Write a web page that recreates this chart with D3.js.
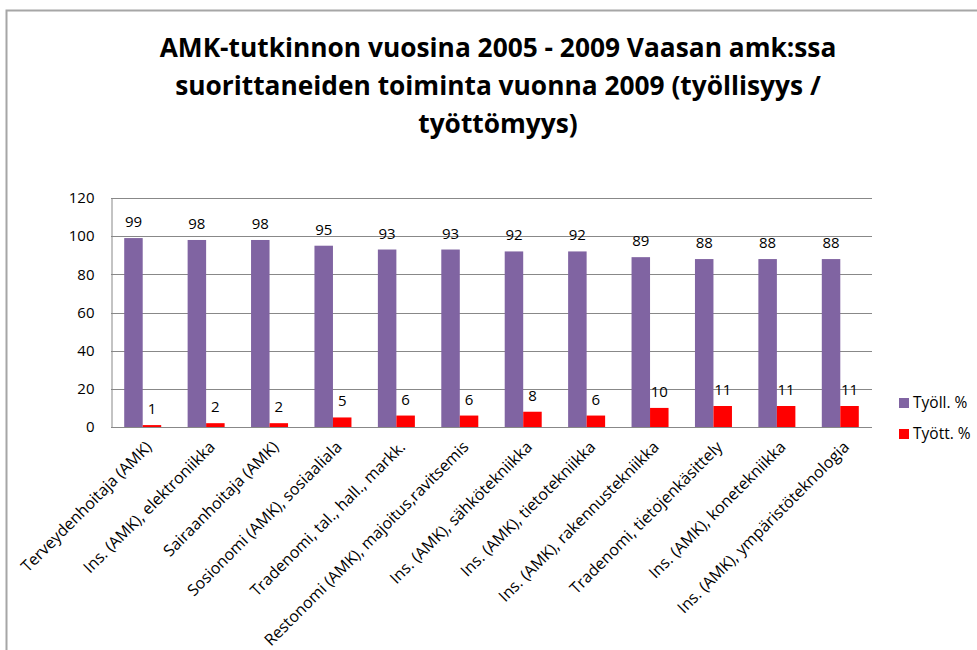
<!DOCTYPE html>
<html>
<head>
<meta charset="utf-8">
<script src="https://cdn.jsdelivr.net/npm/d3@7"></script>
<style>
  body { margin: 0; background: #fff; }
  #chart { width: 977px; height: 650px; }
  text { font-family: "Open Sans", "Noto Sans", Arial, sans-serif; fill: #000; }
</style>
</head>
<body>
<div id="chart"></div>
<script>
// -----------------------------
// DATA
// -----------------------------
const categories = [
    "Terveydenhoitaja (AMK)",
    "Ins. (AMK), elektroniikka",
    "Sairaanhoitaja (AMK)",
    "Sosionomi (AMK), sosiaaliala",
    "Tradenomi, tal., hall., markk.",
    "Restonomi (AMK), majoitus,ravitsemis",
    "Ins. (AMK), sähkötekniikka",
    "Ins. (AMK), tietotekniikka",
    "Ins. (AMK), rakennustekniikka",
    "Tradenomi, tietojenkäsittely",
    "Ins. (AMK), konetekniikka",
    "Ins. (AMK), ympäristöteknologia"
];
const tyollValues = [99, 98, 98, 95, 93, 93, 92, 92, 89, 88, 88, 88];
const tyottValues = [1, 2, 2, 5, 6, 6, 8, 6, 10, 11, 11, 11];
const seriesNames = ["Työll. %", "Tyött. %"];
const seriesColors = ["#8064A2", "#FF0000"];
const yTicks = [0, 20, 40, 60, 80, 100, 120];
const titleLines = [
    "AMK-tutkinnon vuosina 2005 - 2009 Vaasan amk:ssa",
    "suorittaneiden toiminta vuonna 2009 (työllisyys /",
    "työttömyys)"
];

const width = 977, height = 650;
const plot = { left: 111, right: 872, top: 198, bottom: 427 };

const svg = d3.select("#chart").append("svg")
    .attr("width", width)
    .attr("height", height);

// chart area border (only top/left visible in frame)
svg.append("rect")
    .attr("x", 6.5).attr("y", 10.5)
    .attr("width", 1000).attr("height", 700)
    .attr("fill", "none")
    .attr("stroke", "#a6a6a6")
    .attr("stroke-width", 2);

// -----------------------------
// TITLE
// -----------------------------
svg.append("g").selectAll("text")
    .data(titleLines)
    .enter().append("text")
    .attr("x", 498)
    .attr("y", (d, i) => 57 + i * 38)
    .attr("text-anchor", "middle")
    .attr("font-weight", "bold")
    .attr("font-size", 26.3)
    .text(d => d);

// -----------------------------
// SCALES
// -----------------------------
const x = d3.scaleBand().domain(categories).range([plot.left, plot.right]);
const y = d3.scaleLinear().domain([0, 120]).range([plot.bottom, plot.top]);
const barW = 18.5;

// gridlines
svg.append("g").selectAll("line")
    .data(yTicks)
    .enter().append("line")
    .attr("x1", plot.left).attr("x2", plot.right)
    .attr("y1", d => Math.round(y(d)) + 0.5)
    .attr("y2", d => Math.round(y(d)) + 0.5)
    .attr("stroke", "#888")
    .attr("stroke-width", 1);

// y axis
const yAxis = svg.append("g")
    .attr("transform", `translate(${plot.left + 0.5},0)`)
    .call(d3.axisLeft(y).tickValues(yTicks).tickSize(0).tickPadding(17));
yAxis.select(".domain").attr("stroke", "#888");
yAxis.selectAll("text")
    .attr("font-size", 15)
    .attr("font-family", "Open Sans, Arial, sans-serif");

// -----------------------------
// BARS
// -----------------------------
const groups = svg.append("g").selectAll("g")
    .data(categories)
    .enter().append("g")
    .attr("transform", d => `translate(${x(d) + x.bandwidth() / 2},0)`);

[tyollValues, tyottValues].forEach((vals, s) => {
    groups.append("rect")
        .attr("x", s === 0 ? -barW : 0)
        .attr("width", barW)
        .attr("y", (d, i) => y(vals[i]))
        .attr("height", (d, i) => y(0) - y(vals[i]))
        .attr("fill", seriesColors[s]);

    groups.append("text")
        .attr("x", s === 0 ? -barW / 2 : barW / 2)
        .attr("y", (d, i) => y(vals[i]) - 11)
        .attr("text-anchor", "middle")
        .attr("font-size", 15)
        .text((d, i) => vals[i]);
});

// bottom axis line
svg.append("line")
    .attr("x1", plot.left).attr("x2", plot.right)
    .attr("y1", plot.bottom + 0.5).attr("y2", plot.bottom + 0.5)
    .attr("stroke", "#888");

// category labels
svg.append("g").selectAll("text")
    .data(categories)
    .enter().append("text")
    .attr("transform", d => `translate(${x(d) + x.bandwidth() / 2 + 6},${plot.bottom + 17}) rotate(-45)`)
    .attr("text-anchor", "end")
    .attr("dy", "0.35em")
    .attr("font-size", 16)
    .text(d => d);

// -----------------------------
// LEGEND
// -----------------------------
const legend = svg.append("g").selectAll("g")
    .data(seriesNames)
    .enter().append("g")
    .attr("transform", (d, i) => `translate(899,${398 + i * 31})`);

legend.append("rect")
    .attr("width", 10).attr("height", 10)
    .attr("fill", (d, i) => seriesColors[i]);

legend.append("text")
    .attr("x", 14)
    .attr("y", 5)
    .attr("dy", "0.35em")
    .attr("font-size", 15.5)
    .text(d => d);
</script>
</body>
</html>
